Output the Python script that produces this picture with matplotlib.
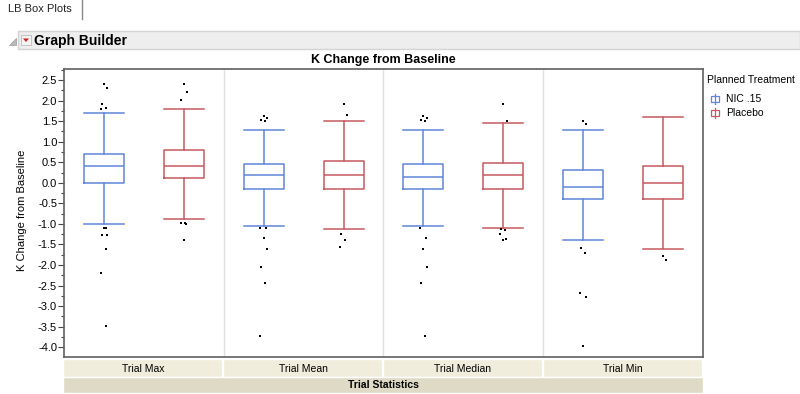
import numpy as np
from matplotlib import pyplot as plt
from matplotlib.patches import Rectangle, Polygon
from matplotlib.ticker import MultipleLocator

plt.rcParams['font.family'] = ['Liberation Sans', 'DejaVu Sans']

# categorias e valores
estatisticas = ['Trial Max', 'Trial Mean', 'Trial Median', 'Trial Min']
tratamentos = ['NIC .15', 'Placebo']

nic_whishi = [1.71, 1.29, 1.29, 1.29]
nic_q3 = [0.71, 0.45, 0.45, 0.30]
nic_med = [0.40, 0.20, 0.15, -0.10]
nic_q1 = [0.00, -0.14, -0.16, -0.40]
nic_whislo = [-1.00, -1.04, -1.04, -1.39]
nic_fliers = [
    [2.41, 2.30, 1.92, 1.81, 1.79, -1.09, -1.10, -1.26, -1.28, -1.60, -2.19, -3.49],
    [1.62, 1.57, 1.52, 1.50, -1.09, -1.10, -1.35, -1.60, -2.04, -2.45, -3.74],
    [1.62, 1.57, 1.53, 1.51, -1.09, -1.35, -1.60, -2.04, -2.45, -3.74],
    [1.51, 1.42, -1.59, -1.70, -2.69, -2.79, -3.98],
]

pla_whishi = [1.79, 1.51, 1.46, 1.61]
pla_q3 = [0.80, 0.54, 0.49, 0.40]
pla_med = [0.40, 0.20, 0.20, 0.00]
pla_q1 = [0.11, -0.14, -0.15, -0.40]
pla_whislo = [-0.89, -1.13, -1.11, -1.61]
pla_fliers = [
    [2.41, 2.22, 2.01, -0.98, -0.99, -1.00, -1.39],
    [1.91, 1.64, -1.24, -1.39, -1.56],
    [1.92, 1.51, -1.13, -1.14, -1.24, -1.38, -1.39],
    [-1.78, -1.88],
]

cores = ['#5f86d8', '#c65a60']
W, H = 800, 394


def px(x, y):
    # pixel -> fração da figura
    return x / W, 1 - y / H


fig = plt.figure(figsize=(8, 3.94), dpi=100)

# aba e barra do Graph Builder
fig.text(*px(8, 9), 'LB Box Plots', fontsize=8, va='center', color='#222222')
fig.add_artist(plt.Line2D([82 / W, 82 / W], [1, 1 - 19 / H], color='#888888', lw=1))
fig.add_artist(Rectangle(px(18, 49), 782 / W, 18 / H, facecolor='#eeeeee',
                         edgecolor='#d4d4d4', lw=1))
fig.add_artist(Polygon([px(9, 45), px(16, 45), px(16, 38)], closed=True,
                       facecolor='#bbbbbb', edgecolor='#999999', lw=0.5))
fig.add_artist(Rectangle(px(21, 45), 10 / W, 10 / H, facecolor='#f4f4f4',
                         edgecolor='#bbbbbb', lw=0.6))
fig.add_artist(Polygon([px(23, 38.5), px(29, 38.5), px(26, 42)], closed=True,
                       facecolor='#d02020', edgecolor='none'))
fig.text(*px(34, 40.5), 'Graph Builder', fontsize=10, fontweight='bold', va='center')

# área principal
ax = fig.add_axes([64 / W, 1 - 357 / H, 639 / W, 288 / H])
ax.set_xlim(0, 4)
ax.set_ylim(-4.24, 2.77)

stats_nic, stats_pla = [], []
for i in range(4):
    stats_nic.append(dict(whislo=nic_whislo[i], q1=nic_q1[i], med=nic_med[i],
                          q3=nic_q3[i], whishi=nic_whishi[i], fliers=[]))
    stats_pla.append(dict(whislo=pla_whislo[i], q1=pla_q1[i], med=pla_med[i],
                          q3=pla_q3[i], whishi=pla_whishi[i], fliers=[]))

for stats, pos, cor in [(stats_nic, np.arange(4) + 0.25, cores[0]),
                        (stats_pla, np.arange(4) + 0.75, cores[1])]:
    props = dict(color=cor, linewidth=1.1)
    ax.bxp(stats, positions=pos, widths=0.25, capwidths=0.25, showfliers=False,
           boxprops=props, medianprops=props, whiskerprops=props, capprops=props,
           manage_ticks=False)

# outliers com um pequeno deslocamento horizontal
desloc = [0.0, 0.02, -0.015, 0.01, -0.02, 0.015]
for i in range(4):
    for fl, base in [(nic_fliers[i], i + 0.25), (pla_fliers[i], i + 0.75)]:
        xs = [base + desloc[k % len(desloc)] for k in range(len(fl))]
        ax.plot(xs, fl, 's', color='black', markersize=1.8, markeredgewidth=0)

for x in [1, 2, 3]:
    ax.axvline(x, color='#e0e0e0', lw=1, zorder=0)

ax.set_xticks([])
ax.set_yticks(np.arange(-4, 2.51, 0.5))
ax.set_yticklabels([f'{v:.1f}' for v in np.arange(-4, 2.51, 0.5)])
ax.yaxis.set_minor_locator(MultipleLocator(0.25))
ax.tick_params(axis='y', labelsize=8, length=4, width=0.8, color='#444444', pad=1)
ax.tick_params(axis='y', which='minor', length=2, width=0.8, color='#444444')
for s in ax.spines.values():
    s.set_color('#606060')
    s.set_linewidth(1.2)

fig.text(*px(383, 60), 'K Change from Baseline', fontsize=9, fontweight='bold',
         ha='center', va='center')
fig.text(*px(22, 210), 'K Change from Baseline', fontsize=8, rotation=90,
         ha='center', va='center')

# faixas de rótulos embaixo
for i, nome in enumerate(estatisticas):
    x0 = 63 + i * 160
    fig.add_artist(Rectangle(px(x0, 377), 159 / W, 18 / H, facecolor='#f0eddc',
                             edgecolor='white', lw=1))
    fig.text(*px(x0 + 80, 368.5), nome, fontsize=7.5, ha='center', va='center')
fig.add_artist(Rectangle(px(63, 393), 640 / W, 16 / H, facecolor='#dedac6',
                         edgecolor='white', lw=1))
fig.text(*px(383, 384.5), 'Trial Statistics', fontsize=7.5, fontweight='bold',
         ha='center', va='center')

# legenda
fig.text(*px(707, 80), 'Planned Treatment', fontsize=7.5, va='center')
for k, (nome, cor) in enumerate(zip(tratamentos, cores)):
    y = 99 + k * 14
    fig.add_artist(Rectangle(px(711, y + 3), 8 / W, 6 / H, facecolor='none',
                             edgecolor=cor, lw=0.9))
    fig.add_artist(plt.Line2D([715 / W, 715 / W], [1 - (y - 5) / H, 1 - (y + 5) / H],
                              color=cor, lw=0.9))
    fig.text(*px(726, y), nome, fontsize=7.5, va='center')

fig.savefig('out.png', dpi=100)
